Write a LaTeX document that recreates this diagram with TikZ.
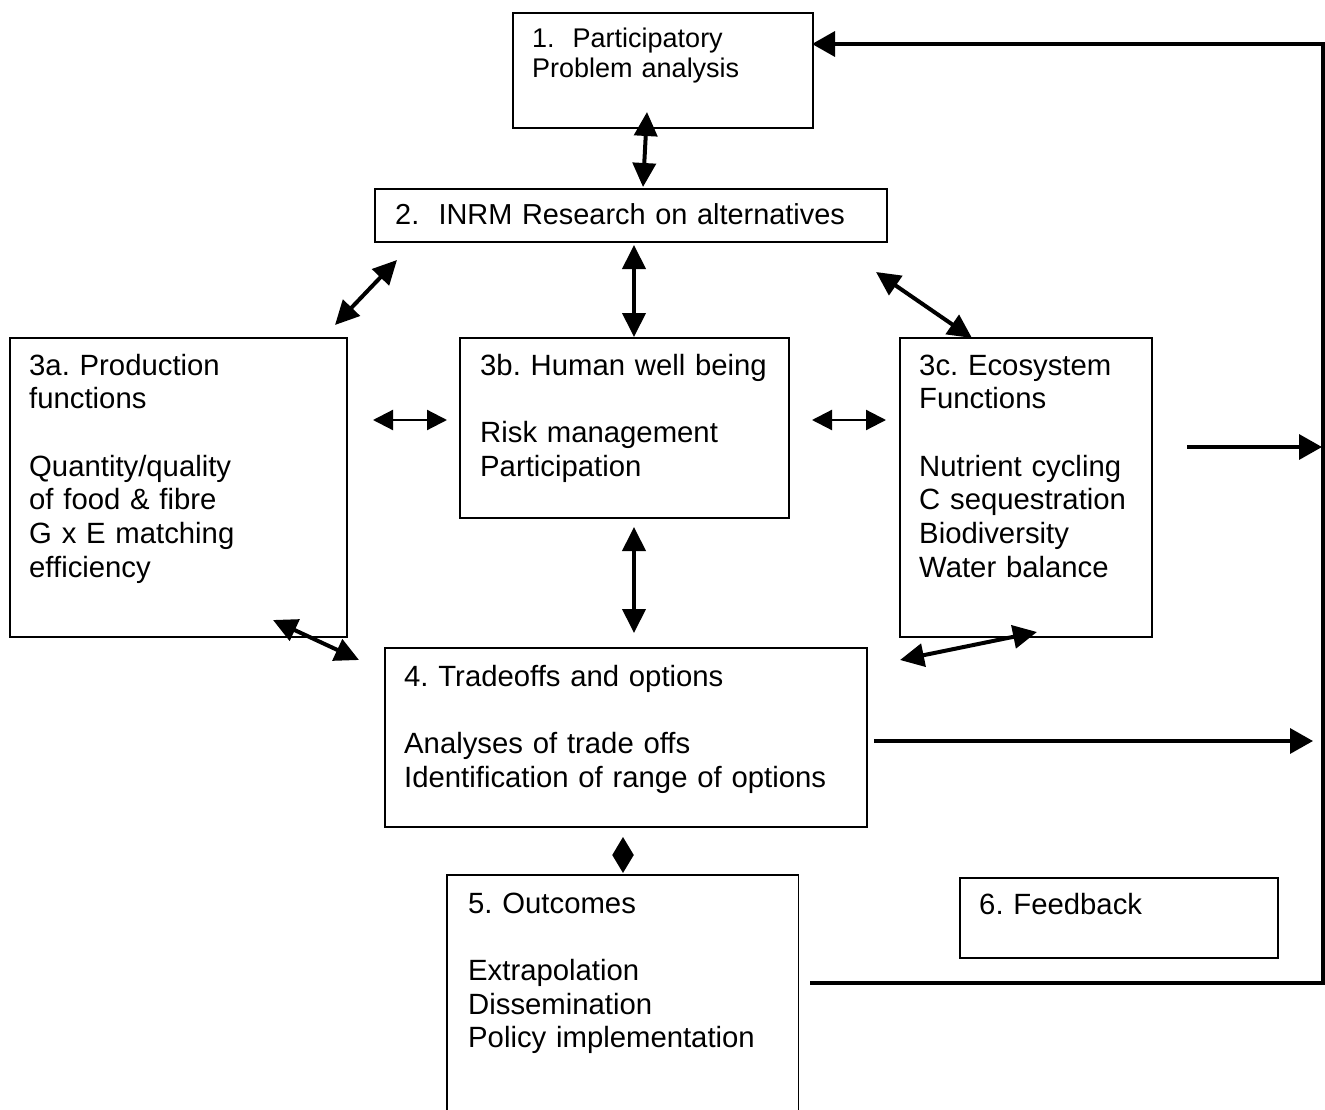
\documentclass[tikz,border=0pt]{standalone}
\usepackage{fontspec}
\setmainfont{Liberation Sans}
\usetikzlibrary{arrows.meta}
\begin{document}
\frenchspacing
\begin{tikzpicture}[x=1pt,y=-1pt,
  box/.style={draw, line width=1.8pt, rectangle, inner sep=0pt, anchor=north west},
  txt/.style={anchor=base west, inner sep=0pt, text width=520pt, align=left,
              font=\fontsize{29.3}{33.7}\selectfont},
  smalltxt/.style={txt, font=\fontsize{27}{29.5}\selectfont},
  midtxt/.style={txt, font=\fontsize{28.9}{33}\selectfont},
  dbl/.style={line width=4pt, {Triangle[length=24pt,width=23pt]}-{Triangle[length=24pt,width=23pt]}},
  thindbl/.style={line width=2.2pt, {Triangle[length=20pt,width=20pt]}-{Triangle[length=20pt,width=20pt]}},
  flow/.style={line width=3.5pt, -{Triangle[length=23pt,width=25pt]}},
  loop/.style={line width=3.5pt}
]
\useasboundingbox (0,0) rectangle (1325,1110);

% boxes
\node[box, minimum width=300pt, minimum height=115pt] (b1) at (512,12) {};
\node[box, minimum width=512pt, minimum height=53pt]  (b2) at (374,188) {};
\node[box, minimum width=337pt, minimum height=299pt] (b3a) at (9,337) {};
\node[box, minimum width=329pt, minimum height=180pt] (b3b) at (459,337) {};
\node[box, minimum width=252pt, minimum height=299pt] (b3c) at (899,337) {};
\node[box, minimum width=482pt, minimum height=179pt] (b4) at (384,647) {};
\node[anchor=north west, inner sep=0pt, minimum width=351pt, minimum height=235pt] (b5) at (447,875) {};
\draw[line width=1.8pt] (b5.south west) -- (b5.north west) -- (b5.north east) -- (b5.south east);
\node[box, minimum width=318pt, minimum height=80pt] (b6) at (959,877) {};

% texts
\node[smalltxt] (t1) at (532,48) {1.\ \ Participatory\\Problem analysis};
\node[midtxt] (t2) at (395,225) {2.\ \ INRM Research on alternatives};
\node[txt] (t3a) at (29,375) {3a. Production\\functions\\[33.7pt]Quantity/quality\\of food \& fibre\\G x E matching\\efficiency};
\node[txt] (t3b) at (480,375) {3b. Human well being\\[33.7pt]Risk management\\Participation};
\node[txt] (t3c) at (919,375) {3c. Ecosystem\\Functions\\[33.7pt]Nutrient cycling\\C sequestration\\Biodiversity\\Water balance};
\node[txt] (t4) at (404,686) {4. Tradeoffs and options\\[33.7pt]Analyses of trade offs\\Identification of range of options};
\node[txt] (t5) at (468,913) {5. Outcomes\\[33.7pt]Extrapolation\\Dissemination\\Policy implementation};
\node[txt] (t6) at (979,914) {6. Feedback};

% arrow end points
\coordinate (p1s) at (647,112);  \coordinate (p2n) at (643,187);
\coordinate (p2a) at (397,260);  \coordinate (p3an) at (335,325);
\coordinate (p2b) at (634,245);  \coordinate (p3bn) at (634,337);
\coordinate (p2c) at (876,272);  \coordinate (p3cn) at (972,338);
\coordinate (p3ae) at (373,420); \coordinate (p3bw) at (447,420);
\coordinate (p3be) at (812,420); \coordinate (p3cw) at (886,420);
\coordinate (p3bs) at (634,527); \coordinate (p4n) at (634,633);
\coordinate (p3as) at (273,620); \coordinate (p4w) at (359,660);
\coordinate (p4e) at (900,660);  \coordinate (p3cs) at (1037,632);
\coordinate (p4s) at (623,837);  \coordinate (p5n) at (623,873);
\coordinate (p3co) at (1187,447); \coordinate (r1) at (1322,447);
\coordinate (p4o) at (874,741);   \coordinate (r2) at (1313,741);
\coordinate (p5o) at (810,983);   \coordinate (c1) at (1323,983);
\coordinate (c2) at (1323,44);    \coordinate (p1e) at (812,44);

% connectors
\draw[dbl] (p1s) -- (p2n);
\draw[dbl] (p2a) -- (p3an);
\draw[dbl] (p2b) -- (p3bn);
\draw[dbl] (p2c) -- (p3cn);
\draw[thindbl] (p3ae) -- (p3bw);
\draw[thindbl] (p3be) -- (p3cw);
\draw[dbl] (p3bs) -- (p4n);
\draw[dbl] (p3as) -- (p4w);
\draw[dbl] (p4e) -- (p3cs);
\draw[line width=2pt, {Triangle[length=18pt,width=21pt]}-{Triangle[length=18pt,width=21pt]}] (p4s) -- (p5n);
\draw[flow] (p3co) -- (r1);
\draw[flow] (p4o) -- (r2);
\draw[flow] (p5o) -- (c1) -- (c2) -- (p1e);
\end{tikzpicture}
\end{document}
